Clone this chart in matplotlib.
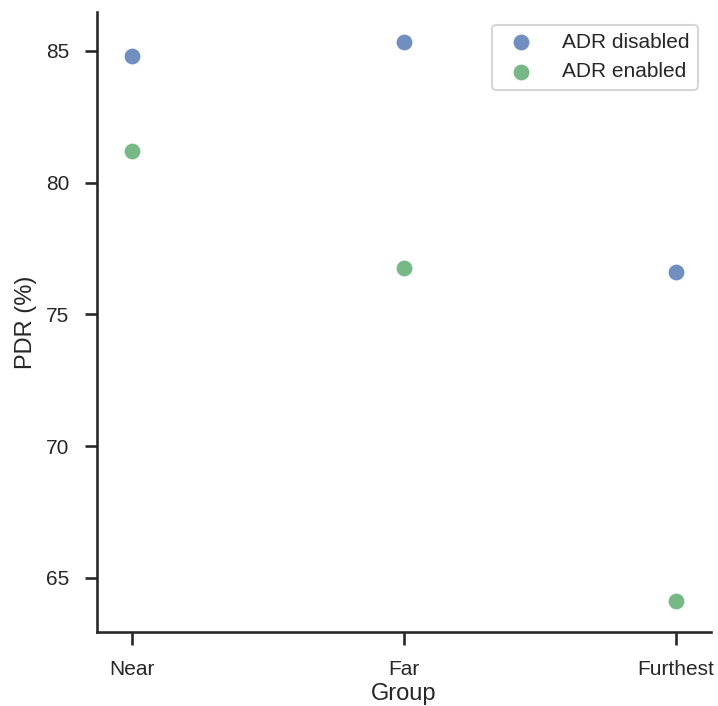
import matplotlib
matplotlib.use("Agg")
import matplotlib.pyplot as plt
import seaborn as sns

# PDR per group
groups = ["Near", "Far", "Furthest"]
pdr_adr_disabled = [84.8, 85.35, 76.6]
pdr_adr_enabled = [81.2, 76.75, 64.13]

sns.set_theme(style="ticks", context="talk", palette="deep")
plt.rcParams["font.family"] = ["Liberation Sans", "DejaVu Sans"]

fig, ax = plt.subplots(figsize=(7.18, 7.06), dpi=100)
x = range(len(groups))
ax.scatter(x, pdr_adr_disabled, s=130, color="#4C72B0", alpha=0.8,
           linewidths=0, label="ADR disabled")
ax.scatter(x, pdr_adr_enabled, s=130, color="#55A868", alpha=0.8,
           linewidths=0, label="ADR enabled")

ax.set_xticks(list(x))
ax.set_xticklabels(groups)
ax.set_xlim(-0.129, 2.129)
ax.set_ylim(62.95, 86.48)
ax.set_yticks([65, 70, 75, 80, 85])
ax.tick_params(labelsize=15, pad=11)
ax.set_xlabel("Group", fontsize=17, labelpad=3)
ax.set_ylabel("PDR (%)", fontsize=17, labelpad=6)
ax.legend(loc="upper right", fontsize=15, handletextpad=1.0,
          borderaxespad=0.6)
sns.despine(ax=ax)

fig.subplots_adjust(left=0.135, right=0.990, top=0.983, bottom=0.105)
fig.savefig("out.png")
